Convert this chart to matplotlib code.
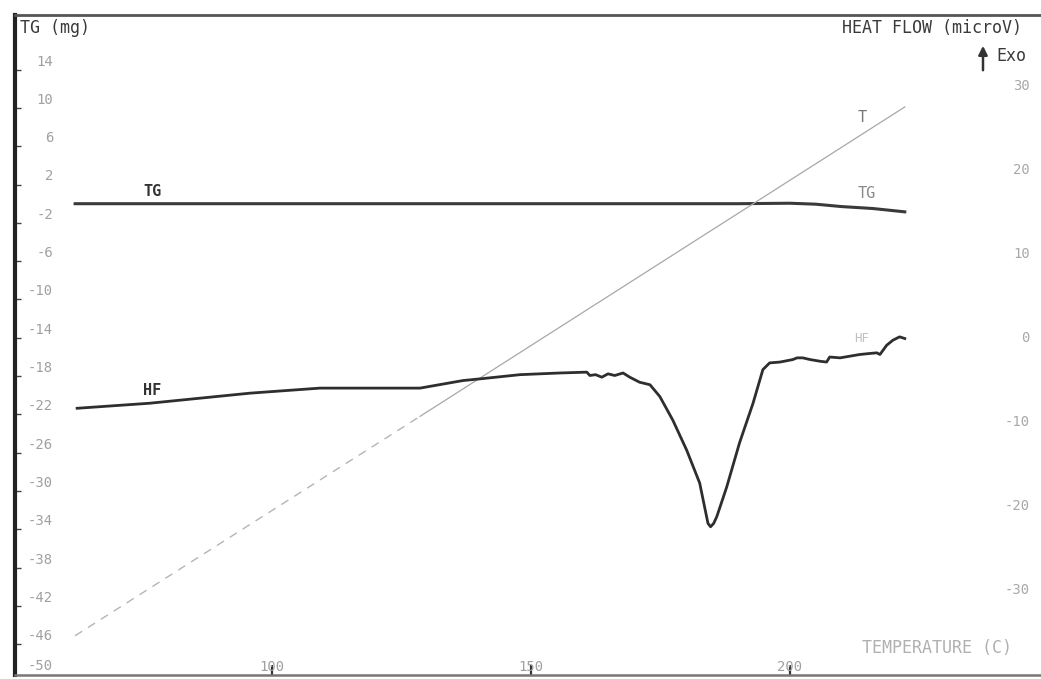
import matplotlib
matplotlib.use('Agg')
import matplotlib.pyplot as plt
import numpy as np

# heat flow trace (temperature in C, heat flow in microV)
hf_temp = [62.4, 76.4, 95.8, 109.3, 120.8, 128.6, 136.9, 140.2, 147.9, 155.6,
           160.8, 161.4, 162.5, 163.7, 164.9, 166.2, 167.8, 169.1, 171.0, 173.0,
           174.9, 177.4, 180.1, 182.6, 183.6, 184.2, 184.7, 185.3, 185.9, 187.8,
           190.3, 192.9, 194.8, 196.1, 198.1, 200.6, 201.4, 202.5, 203.9, 205.8,
           207.1, 207.7, 209.7, 211.6, 213.5, 215.1, 216.8, 217.4, 218.7, 219.9,
           221.2, 222.2]
hf_val = [-8.5, -7.9, -6.7, -6.1, -6.1, -6.1, -5.2, -5.0, -4.5, -4.3,
          -4.2, -4.6, -4.5, -4.8, -4.4, -4.6, -4.3, -4.8, -5.4, -5.7,
          -7.1, -9.9, -13.5, -17.4, -20.4, -22.2, -22.6, -22.2, -21.4, -17.9,
          -12.6, -7.9, -3.9, -3.1, -3.0, -2.7, -2.5, -2.5, -2.7, -2.9,
          -3.0, -2.4, -2.5, -2.3, -2.1, -2.0, -1.9, -2.1, -1.0, -0.4,
          0.0, -0.2]

# TG trace (mg)
tg_temp = [62.0, 100.0, 150.0, 190.0, 200.0, 205.0, 210.0, 216.0, 222.2]
tg_val = [-1.0, -1.0, -1.0, -1.0, -0.95, -1.05, -1.3, -1.5, -1.85]

# programmed temperature line, plotted on the mg scale
t_temp_low = [62.0, 128.6]
t_val_low = [-46.1, -23.2]
t_temp_high = [128.6, 222.2]
t_val_high = [-23.2, 9.1]

tg_ticks = list(range(14, -51, -4))
tg_minor = list(range(13, -50, -4))
hf_ticks = [30, 20, 10, 0, -10, -20, -30]
temp_ticks = [100, 150, 200]

mono = 'DejaVu Sans Mono'

fig = plt.figure(figsize=(10.41, 6.79), dpi=100)
ax = fig.add_axes([15 / 1041, 4 / 679, 1 - 15 / 1041, 660 / 679])
ax.set_xlim(50.4, 248.5)
ax.set_ylim(-50.2, 18.7)

ax.plot(tg_temp, tg_val, color='#3a3a3a', lw=2.2)
ax.plot(t_temp_low, t_val_low, color='#b5b5b5', lw=1.0, ls=(0, (6, 5)))
ax.plot(t_temp_high, t_val_high, color='#a8a8a8', lw=0.9)

ax2 = ax.twinx()
ax2.set_ylim(-40.24, 38.3)
ax2.plot(hf_temp, hf_val, color='#2e2e2e', lw=2.0)

ax.spines['right'].set_visible(False)
ax2.spines['right'].set_visible(False)
ax.spines['left'].set_linewidth(3)
ax.spines['left'].set_color('#222222')
ax.spines['top'].set_linewidth(2)
ax.spines['top'].set_color('#555555')
ax.spines['bottom'].set_linewidth(1.8)
ax.spines['bottom'].set_color('#777777')
for s in ['left', 'top', 'bottom']:
    ax2.spines[s].set_visible(False)

# left scale, labels sit inside the frame
ax.set_yticks(tg_ticks)
ax.set_yticklabels([str(v) for v in tg_ticks], family=mono)
ax.set_yticks(tg_minor, minor=True)
ax.tick_params(axis='y', which='major', direction='in', length=0, pad=-27.5,
               labelsize=10, labelcolor='#a0a0a0')
ax.tick_params(axis='y', which='minor', direction='in', length=4, width=1,
               color='#444444')
# bottom label would run off the frame edge
ax.get_yticklabels()[-1].set_verticalalignment('bottom')

ax.set_xticks(temp_ticks)
ax.set_xticklabels([str(v) for v in temp_ticks], family=mono)
ax.tick_params(axis='x', direction='in', length=7, width=1.6, color='#333333',
               pad=-11, labelsize=10, labelcolor='#a0a0a0')

ax2.set_yticks(hf_ticks)
ax2.set_yticklabels([str(v) for v in hf_ticks], family=mono)
ax2.tick_params(axis='y', direction='in', length=0, pad=-8,
                labelsize=10, labelcolor='#a8a8a8')
for lab in ax2.get_yticklabels():
    lab.set_horizontalalignment('right')

fig.text(20 / 1041, 1 - 28 / 679, 'TG (mg)', family=mono, fontsize=12,
         color='#3a3a3a', va='center')
fig.text(1022 / 1041, 1 - 28 / 679, 'HEAT FLOW (microV)', family=mono,
         fontsize=12, color='#3a3a3a', va='center', ha='right')
fig.text(996 / 1041, 1 - 56 / 679, 'Exo', family=mono, fontsize=12,
         color='#3a3a3a', va='center')
ax.annotate('', xy=(983, 679 - 43), xytext=(983, 679 - 73),
            xycoords='figure pixels', textcoords='figure pixels',
            arrowprops=dict(arrowstyle='-|>', color='#333333', lw=1.8,
                            mutation_scale=13))

fig.text(152 / 1041, 1 - 191 / 679, 'TG', family=mono, fontsize=11,
         fontweight='bold', color='#333333', ha='center', va='center')
fig.text(152 / 1041, 1 - 391 / 679, 'HF', family=mono, fontsize=11,
         fontweight='bold', color='#333333', ha='center', va='center')
fig.text(862 / 1041, 1 - 117 / 679, 'T', family=mono, fontsize=11,
         color='#777777', ha='center', va='center')
fig.text(867 / 1041, 1 - 193 / 679, 'TG', family=mono, fontsize=11,
         color='#8a8a8a', ha='center', va='center')
fig.text(862 / 1041, 1 - 339 / 679, 'HF', family=mono, fontsize=9,
         color='#c0c0c0', ha='center', va='center')
fig.text(937 / 1041, 1 - 648 / 679, 'TEMPERATURE (C)', family=mono,
         fontsize=12, color='#b0b0b0', ha='center', va='center')

fig.savefig('out.png', dpi=100, facecolor='white')
